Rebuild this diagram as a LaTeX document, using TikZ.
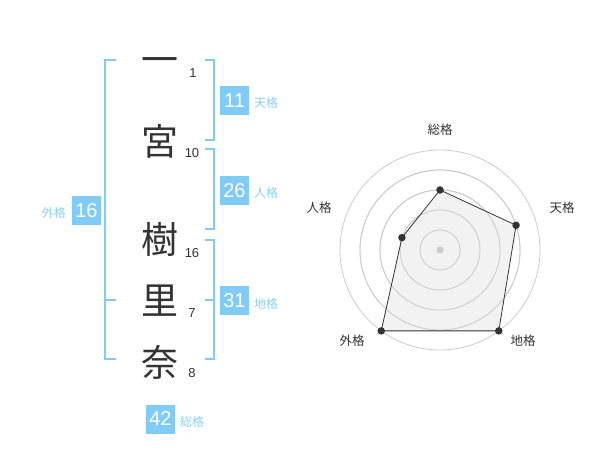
\documentclass[tikz,border=0pt]{standalone}
\usepackage{fontspec}
\usetikzlibrary{calc}
\setmainfont{Liberation Sans}
\newfontfamily\cjk{Noto Sans CJK JP}
\definecolor{bl}{HTML}{80CCF7}
\definecolor{bltxt}{HTML}{8AD0F5}
\definecolor{dk}{HTML}{333333}
\definecolor{ring}{HTML}{CCCCCC}
\definecolor{polyfill}{HTML}{F0F0F0}
\begin{document}
\begin{tikzpicture}[x=1pt,y=-1pt,
  bracket/.style={draw=bl,line width=2pt},
  bigch/.style={inner sep=0pt,text=dk,font=\cjk\fontsize{37}{37}\selectfont},
  strokes/.style={inner sep=0pt,text=dk,font=\fontsize{13}{13}\selectfont},
  gbox/.style={fill=bl,text=white,minimum width=29pt,minimum height=29pt,inner sep=0pt,font=\fontsize{20}{20}\selectfont},
  glabel/.style={inner sep=0pt,text=bltxt,font=\cjk\fontsize{12}{12}\selectfont},
  rlabel/.style={inner sep=0pt,text=dk,font=\cjk\fontsize{12.5}{12.5}\selectfont},
  ringc/.style={draw=ring,line width=0.8pt},
  dot/.style={circle,fill=dk,inner sep=0pt,minimum size=7.5pt}]
\useasboundingbox (0,0) rectangle (600,470);
\fill[white] (0,0) rectangle (600,470);
% big characters
\node[bigch] (c1) at (160,66) {一};
\node[bigch] (c2) at (160,141) {宮};
\node[bigch] (c3) at (160,239) {樹};
\node[bigch] (c4) at (160,301) {里};
\node[bigch] (c5) at (160,362) {奈};
% stroke counts
\node[strokes] (n1) at (193,73) {1};
\node[strokes] (n2) at (192,153) {10};
\node[strokes] (n3) at (192,253) {16};
\node[strokes] (n4) at (192,313) {7};
\node[strokes] (n5) at (192,373) {8};
% brackets
\draw[bracket] (116,60) -- (105,60) -- (105,359) -- (116,359);
\draw[bracket] (105,300) -- (116,300);
\draw[bracket] (205,60) -- (214,60) -- (214,140) -- (205,140);
\draw[bracket] (205,149) -- (214,149) -- (214,229) -- (205,229);
\draw[bracket] (205,240) -- (214,240) -- (214,359) -- (205,359);
\draw[bracket] (205,300) -- (214,300);
% boxes
\node[gbox] (b11) at (234.5,100.5) {11};
\node[glabel,anchor=west] (l11) at (254,103) {天格};
\node[gbox] (b26) at (234.5,190.5) {26};
\node[glabel,anchor=west] (l26) at (254,193) {人格};
\node[gbox] (b16) at (86.5,210.5) {16};
\node[glabel,anchor=east] (l16) at (66,213) {外格};
\node[gbox] (b31) at (234.5,301) {31};
\node[glabel,anchor=west] (l31) at (254,304) {地格};
\node[gbox] (b42) at (160.5,419) {42};
\node[glabel,anchor=west] (l42) at (180,422) {総格};
% radar
\coordinate (ctr) at (440,250);
\foreach \r in {20,40,60,80,100} \draw[ringc] (ctr) circle[radius=\r];
\coordinate (p1) at ($(ctr)+(0,-60)$);
\coordinate (p2) at ($(ctr)+(76.08,-24.72)$);
\coordinate (p3) at ($(ctr)+(58.78,80.90)$);
\coordinate (p4) at ($(ctr)+(-58.78,80.90)$);
\coordinate (p5) at ($(ctr)+(-38.04,-12.36)$);
\fill[polyfill,opacity=0.85] (p1) -- (p2) -- (p3) -- (p4) -- (p5) -- cycle;
\foreach \r in {20,40,60,80} \draw[ringc] (ctr) circle[radius=\r];
\draw[dk,line width=0.8pt] (p1) -- (p2) -- (p3) -- (p4) -- (p5) -- cycle;
\node[circle,fill=ring,inner sep=0pt,minimum size=7pt] (c0) at (ctr) {};
\foreach \p in {p1,p2,p3,p4,p5} \node[dot] (d\p) at (\p) {};
\node[rlabel] (r1) at (440,130) {総格};
\node[rlabel] (r2) at (562,208) {天格};
\node[rlabel] (r3) at (319,208) {人格};
\node[rlabel] (r4) at (352,341) {外格};
\node[rlabel] (r5) at (523,341) {地格};
\end{tikzpicture}
\end{document}
